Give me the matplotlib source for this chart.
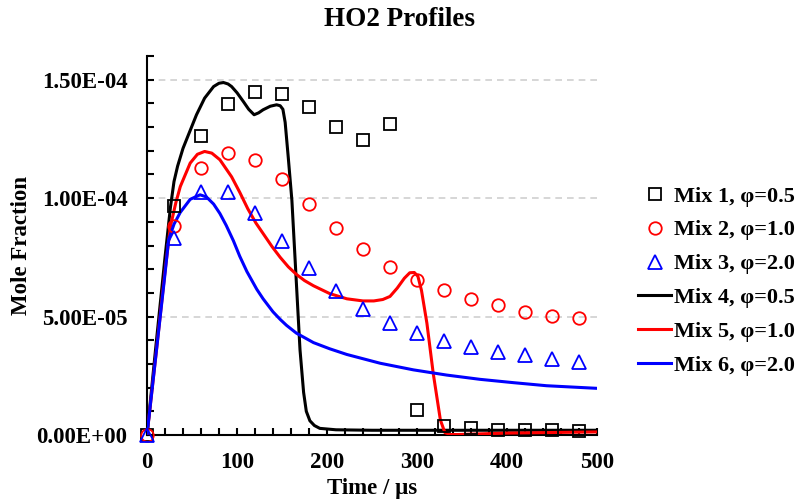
import numpy as np
import matplotlib
matplotlib.use('Agg')
import matplotlib.pyplot as plt
from matplotlib.ticker import MultipleLocator, FuncFormatter

plt.rcParams['font.family'] = ['Liberation Serif', 'DejaVu Serif']
plt.rcParams['font.weight'] = 'bold'

# Datos experimentales (mole fraction, en unidades de 1e-5)
t_exp = [0, 30, 60, 90, 120, 150, 180, 210, 240, 270, 300, 330, 360, 390, 420, 450, 480]
mix1 = [0, 9.67, 12.63, 13.98, 14.49, 14.40, 13.86, 13.01, 12.46, 13.14, 1.06, 0.38, 0.30, 0.22, 0.20, 0.19, 0.18]
mix2 = [0, 8.83, 11.28, 11.91, 11.62, 10.82, 9.76, 8.75, 7.84, 7.10, 6.55, 6.13, 5.75, 5.48, 5.21, 5.04, 4.96]
mix3 = [0, 8.30, 10.27, 10.27, 9.38, 8.20, 7.03, 6.07, 5.32, 4.74, 4.32, 3.97, 3.73, 3.50, 3.36, 3.21, 3.07]

# Curvas del modelo
t4 = [0, 10, 20, 26, 30, 34, 40, 46, 55, 64, 74, 80, 85, 90, 94, 100, 107, 113, 119, 124,
      129, 137, 144, 148, 151, 153.5, 157, 161, 166, 170, 174, 177, 181, 186, 192, 210,
      250, 300, 400, 500]
mix4 = [0, 3.8, 7.5, 9.6, 10.7, 11.35, 12.1, 12.67, 13.52, 14.22, 14.71, 14.85, 14.88,
        14.82, 14.71, 14.45, 14.08, 13.75, 13.52, 13.6, 13.73, 13.88, 13.94, 13.9, 13.75,
        13.2, 11.7, 9.9, 6.4, 3.6, 1.8, 1.0, 0.6, 0.4, 0.28, 0.22, 0.20, 0.20, 0.20, 0.20]

t5 = [0, 10, 20, 26, 32, 37, 48, 56, 64, 72, 81, 94, 103, 112, 121, 130, 139, 148, 157,
      166, 175, 185, 203, 222, 240, 252, 262, 270, 278, 286, 292, 297, 301, 305, 311, 318,
      326, 331, 337, 345, 400, 500]
mix5 = [0, 3.4, 6.9, 8.8, 9.8, 10.49, 11.48, 11.85, 11.97, 11.9, 11.62, 10.9, 10.25, 9.55,
        8.95, 8.45, 7.95, 7.5, 7.1, 6.78, 6.52, 6.3, 5.97, 5.75, 5.66, 5.66, 5.72, 5.85, 6.2,
        6.62, 6.85, 6.86, 6.7, 6.1, 4.72, 2.61, 0.63, 0.1, 0.02, 0.02, 0.08, 0.13]

t6 = [0, 10, 20, 24, 30, 37, 48, 59, 66, 74, 81, 88, 96, 103, 111, 122, 129, 140, 148, 155,
      166, 185, 203, 222, 259, 296, 333, 370, 407, 444, 500]
mix6 = [0, 3.4, 6.8, 8.24, 8.9, 9.4, 9.95, 10.14, 10.05, 9.75, 9.35, 8.85, 8.2, 7.55, 6.9,
        6.15, 5.75, 5.2, 4.88, 4.63, 4.3, 3.9, 3.64, 3.4, 3.03, 2.75, 2.53, 2.35, 2.21, 2.08,
        1.97]

etiquetas = ['Mix 1, φ=0.5', 'Mix 2, φ=1.0', 'Mix 3, φ=2.0',
             'Mix 4, φ=0.5', 'Mix 5, φ=1.0', 'Mix 6, φ=2.0']

escala = 1e-5

fig = plt.figure(figsize=(7.98, 5.03), dpi=100)
ax = fig.add_axes([147 / 798, 1 - 435 / 503, 450 / 798, 379 / 503])

mk = dict(linestyle='none', markerfacecolor='none', markeredgewidth=1.3, clip_on=False, zorder=4)
ax.plot(t_exp, np.array(mix1) * escala, marker='s', markersize=8.5, color='black', label=etiquetas[0], **mk)
ax.plot(t_exp, np.array(mix2) * escala, marker='o', markersize=9, color='#ff0000', label=etiquetas[1], **mk)
ax.plot(t_exp, np.array(mix3) * escala, marker='^', markersize=9.5, color='#0000ff', label=etiquetas[2], **mk)

ax.plot(t4, np.array(mix4) * escala, color='black', lw=2.2, label=etiquetas[3], zorder=3)
ax.plot(t5, np.array(mix5) * escala, color='#ff0000', lw=2.2, label=etiquetas[4], zorder=3)
ax.plot(t6, np.array(mix6) * escala, color='#0000ff', lw=2.2, label=etiquetas[5], zorder=3)

ax.set_xlim(0, 500)
ax.set_ylim(0, 1.6e-4)
ax.xaxis.set_major_locator(MultipleLocator(100))
ax.xaxis.set_minor_locator(MultipleLocator(20))
ax.yaxis.set_major_locator(MultipleLocator(5e-5))
ax.yaxis.set_minor_locator(MultipleLocator(1e-5))
ax.yaxis.set_major_formatter(FuncFormatter(lambda v, p: ('%.2E' % v)))

ax.grid(axis='y', which='major', color='#d0d0d0', linestyle=(0, (4, 3)), lw=1.2, zorder=0)
ax.set_axisbelow(True)

for s in ['top', 'right']:
    ax.spines[s].set_visible(False)
for s in ['left', 'bottom']:
    ax.spines[s].set_linewidth(1.5)

ax.tick_params(which='both', direction='in', length=5, width=1.5, labelsize=16.5)
ax.tick_params(axis='y', which='major', pad=14)
ax.tick_params(axis='x', which='major', pad=12)

ax.set_xlabel('Time / μs', fontsize=16.5, fontweight='bold', labelpad=4)
ax.set_ylabel('Mole Fraction', fontsize=16.5, fontweight='bold', labelpad=3)
fig.text(0.5, 1 - 19 / 503, 'HO2 Profiles', ha='center', va='center', fontsize=19.5, fontweight='bold')

ax.legend(loc='center left', bbox_to_anchor=(638 / 798, 1 - 281 / 503), bbox_transform=fig.transFigure,
          frameon=False, fontsize=16, handlelength=1.5, handletextpad=0.1, labelspacing=0.6,
          borderaxespad=0, borderpad=0, numpoints=1)

plt.savefig('out.png', dpi=100)
